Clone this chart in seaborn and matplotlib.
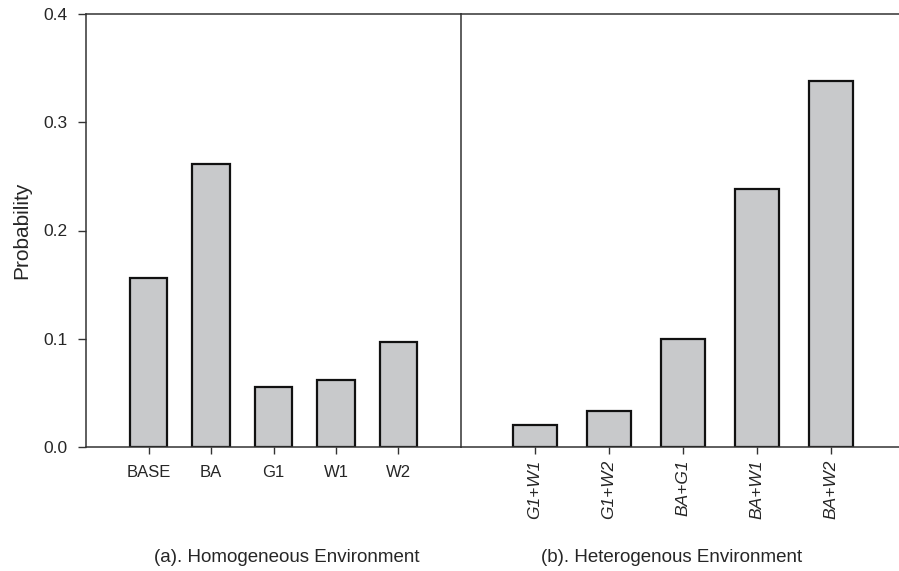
import matplotlib
matplotlib.use("Agg")
import matplotlib.pyplot as plt
import seaborn as sns

homo_cats = ["BASE", "BA", "G1", "W1", "W2"]
homo_vals = [0.156, 0.261, 0.055, 0.062, 0.097]
hetero_cats = ["G1+W1", "G1+W2", "BA+G1", "BA+W1", "BA+W2"]
hetero_vals = [0.020, 0.033, 0.100, 0.238, 0.338]
yticks = [0.0, 0.1, 0.2, 0.3, 0.4]

sns.set_style("ticks")
plt.rcParams["font.family"] = ["Liberation Sans", "DejaVu Sans"]

fig = plt.figure(figsize=(8.99, 5.71), dpi=100)
W, H = 899, 571
def rect(x0, x1, y0, y1):
    return [x0 / W, 1 - y1 / H, (x1 - x0) / W, (y1 - y0) / H]

ax1 = fig.add_axes(rect(86, 461, 14, 447))
ax2 = fig.add_axes(rect(461, 899, 14, 447))

bar_color = "#c8c9cb"
edge = "#111111"
for ax, cats, vals in [(ax1, homo_cats, homo_vals), (ax2, hetero_cats, hetero_vals)]:
    sns.barplot(x=cats, y=vals, color=bar_color, saturation=1, edgecolor=edge,
                linewidth=1.6, width=0.6, ax=ax)
    ax.set_ylim(0, 0.4)
    for s in ["left", "top", "bottom"]:
        ax.spines[s].set_color("#333333")
        ax.spines[s].set_linewidth(1.1)
    ax.spines["right"].set_visible(False)
    ax.set_xlabel("")
    ax.set_ylabel("")
    ax.tick_params(axis="x", direction="out", length=5, width=1, color="#333333",
                   labelsize=12, pad=8)

ax1.set_xlim(-1, 5)
ax2.set_xlim(-1, 4.92)
ax2.tick_params(axis="x", pad=4)

ax1.set_yticks(yticks)
ax1.set_yticklabels([f"{v:.1f}" for v in yticks])
ax1.tick_params(axis="y", direction="out", length=6, width=1, color="#333333",
                labelsize=12.5, pad=7)
ax1.set_ylabel("Probability", fontsize=15, labelpad=9)

ax2.set_yticks([])
ax2.tick_params(axis="y", length=0)
for lbl in ax2.get_xticklabels():
    lbl.set_rotation(90)
    lbl.set_fontstyle("italic")
    lbl.set_fontsize(12.5)

fig.text(287 / W, 1 - 558 / H, "(a). Homogeneous Environment", ha="center", va="center", fontsize=13.5)
fig.text(672 / W, 1 - 558 / H, "(b). Heterogenous Environment", ha="center", va="center", fontsize=13.5)

fig.savefig("out.png", dpi=100)
